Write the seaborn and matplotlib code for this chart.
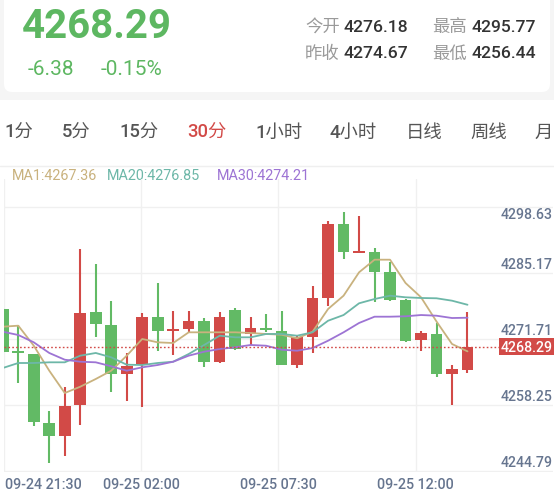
import numpy as np
import pandas as pd
import matplotlib
matplotlib.use("Agg")
import matplotlib.pyplot as plt
import seaborn as sns
from matplotlib.patches import FancyBboxPatch, Rectangle
from matplotlib.transforms import blended_transform_factory as blend

# ---------------- data ----------------
opens = [4275.99, 4267.30, 4266.82, 4252.77, 4250.18, 4256.44, 4275.31, 4272.73, 4262.75, 4264.64,
         4274.30, 4271.50, 4271.91, 4273.48, 4265.13, 4275.88, 4270.90, 4272.00, 4271.57, 4264.64,
         4270.22, 4278.23, 4293.30, 4287.50, 4287.66, 4283.46, 4277.82, 4269.73, 4270.90, 4262.75,
         4263.63]
closes = [4267.29, 4267.00, 4253.03, 4250.18, 4256.29, 4275.17, 4272.87, 4262.75, 4264.32, 4274.30,
          4271.57, 4271.80, 4273.48, 4265.13, 4274.30, 4267.84, 4272.12, 4271.80, 4264.64, 4270.22,
          4278.17, 4293.30, 4287.66, 4287.70, 4283.58, 4277.82, 4269.53, 4271.04, 4262.75, 4263.77,
          4268.29]
highs = [4276.20, 4272.73, 4266.90, 4255.15, 4260.16, 4288.21, 4285.09, 4277.68, 4266.96, 4275.11,
         4281.22, 4275.52, 4275.52, 4274.15, 4275.31, 4276.19, 4274.30, 4274.97, 4275.52, 4270.40,
         4280.61, 4293.85, 4295.77, 4294.87, 4288.35, 4285.62, 4278.00, 4271.57, 4273.14, 4264.64,
         4275.44]
lows = [4267.00, 4260.85, 4252.22, 4244.56, 4246.11, 4252.36, 4270.22, 4259.02, 4257.19, 4255.97,
        4267.37, 4266.68, 4271.24, 4264.24, 4264.93, 4267.64, 4268.72, 4271.24, 4264.50, 4263.97,
        4266.96, 4276.54, 4286.17, 4287.50, 4277.35, 4277.70, 4269.33, 4267.37, 4262.08, 4256.44,
        4262.95]
ma1 = [4272.38, 4272.59, 4268.51, 4263.42, 4258.88, 4260.16, 4261.73, 4263.42, 4266.48, 4269.88,
       4269.20, 4269.06, 4271.24, 4271.24, 4271.24, 4271.24, 4271.10, 4270.90, 4270.75, 4270.02,
       4271.36, 4275.99, 4278.70, 4283.46, 4286.03, 4286.03, 4281.28, 4278.37, 4273.44, 4268.86,
       4267.36]
ma20 = [4263.97, 4264.99, 4264.99, 4265.13, 4265.13, 4266.48, 4267.03, 4266.15, 4264.64, 4264.58,
        4264.99, 4265.25, 4266.82, 4268.66, 4270.55, 4270.22, 4270.22, 4270.90, 4270.90, 4270.55,
        4271.24, 4273.60, 4274.76, 4277.15, 4278.02, 4278.70, 4278.37, 4278.23, 4278.17, 4277.68,
        4276.85]
ma30 = [4271.36, 4270.69, 4269.20, 4267.03, 4265.66, 4265.25, 4265.13, 4264.32, 4263.42, 4264.11,
        4264.58, 4265.25, 4266.48, 4267.29, 4267.84, 4268.19, 4268.66, 4268.51, 4267.70, 4267.49,
        4268.04, 4269.53, 4271.24, 4273.14, 4274.42, 4274.42, 4274.50, 4274.76, 4274.62, 4274.15,
        4274.21]

y_ticks = [4298.63, 4285.17, 4271.71, 4258.25, 4244.79]
x_labels = ["09-24 21:30", "09-25 02:00", "09-25 07:30", "09-25 12:00"]
tab_labels = ["1分", "5分", "15分", "30分", "1小时", "4小时", "日线", "周线", "月"]
active_tab = 3

last_price = 4268.29
change_abs = "-6.38"
change_pct = "-0.15%"
stat_names = ["今开", "最高", "昨收", "最低"]
stat_vals = ["4276.18", "4295.77", "4274.67", "4256.44"]
legend_names = ["MA1", "MA20", "MA30"]
legend_vals = [4267.36, 4276.85, 4274.21]

# ---------------- style ----------------
RED = "#d24a47"
GREEN = "#62ba65"
GREEN_TXT = "#5db761"
MA_COLORS = ["#c9b27e", "#6db7a8", "#9d74d4"]
AXIS_TXT = "#66758f"
GRID = "#f0f0f0"

sns.set_theme(style="white")
plt.rcParams["font.family"] = ["Roboto", "Noto Sans CJK SC", "DejaVu Sans"]

W, H = 554, 502
fig = plt.figure(figsize=(W / 100, H / 100), dpi=100)
fig.patch.set_facecolor("white")

# background axes in pixel coordinates
bg = fig.add_axes([0, 0, 1, 1], zorder=0)
bg.set_xlim(0, W)
bg.set_ylim(H, 0)
bg.axis("off")
bg.add_patch(Rectangle((0, 0), W, 101, facecolor="#f5f5f5", edgecolor="none"))
bg.add_patch(FancyBboxPatch((4, -20), 546, 113, boxstyle="round,pad=0,rounding_size=8",
                            facecolor="white", edgecolor="none"))

# header
bg.text(22, 38, f"{last_price:.2f}", fontsize=29, fontweight="bold", color=GREEN_TXT, va="baseline")
bg.text(28, 75, change_abs, fontsize=15, color=GREEN_TXT, va="baseline")
bg.text(101, 75, change_pct, fontsize=15, color=GREEN_TXT, va="baseline")
name_x = [305, 432, 305, 432]
val_x = [344, 472, 344, 472]
row_y = [32, 32, 58.5, 58.5]
for n, v, nx, vx, ry in zip(stat_names, stat_vals, name_x, val_x, row_y):
    bg.text(nx, ry, n, fontsize=12.5, color="#9a9a9a", va="baseline")
    bg.text(vx, ry, v, fontsize=12.6, color="#333333", va="baseline", fontweight="medium")

# tabs
tab_x = [4, 62, 119, 187, 255, 329, 406, 470, 535]
for i, (t, tx) in enumerate(zip(tab_labels, tab_x)):
    bg.text(tx, 133, t, fontsize=13.2, color=RED if i == active_tab else "#555555",
            va="center", fontweight="medium")
bg.plot([0, W], [167, 167], color="#efefef", lw=1)

# legend
leg_x = [12, 107, 217]
for n, v, lx, col in zip(legend_names, legend_vals, leg_x, MA_COLORS):
    bg.text(lx, 176.5, f"{n}:{v:.2f}", fontsize=10.4, color=col, va="center")

# ---------------- chart ----------------
ax_left, ax_right, ax_top, ax_bottom = 4, 553, 180, 473
ax = fig.add_axes([ax_left / W, 1 - ax_bottom / H, (ax_right - ax_left) / W, (ax_bottom - ax_top) / H],
                  zorder=1)
ax.set_facecolor("none")
for s in ax.spines.values():
    s.set_visible(False)

n = len(opens)
idx = np.arange(n)
o = np.array(opens); c = np.array(closes); hi = np.array(highs); lo = np.array(lows)
up = c >= o
cols = np.where(up, RED, GREEN)

px_per_candle = 15.49
first_px = 2.8
ax.set_xlim((ax_left - first_px) / px_per_candle, (ax_right - first_px) / px_per_candle)
px_per_unit = 4.91
ref_val, ref_px = 4271.71, 331.0
ax.set_ylim(ref_val - (ax_bottom - ref_px) / px_per_unit, ref_val + (ref_px - ax_top) / px_per_unit)

# grid (drawn slightly below label values, as in the app)
grid_shift = 1.82
for t in y_ticks:
    ax.axhline(t - grid_shift, color=GRID, lw=1, zorder=0)
vgrid = [0.077 + 8.86 * k for k in range(len(x_labels))]
for g in vgrid:
    ax.axvline(g, color=GRID, lw=1, zorder=0)

# candles
ax.vlines(idx, lo, hi, colors=cols, lw=1.5, zorder=2)
min_body = 0.4
body_h = np.maximum(np.abs(c - o), min_body)
mid = (c + o) / 2
ax.bar(idx, body_h, bottom=mid - body_h / 2, width=0.75, color=cols, linewidth=0, zorder=2.5)

# moving averages
df = pd.DataFrame({"i": idx, "MA1": ma1, "MA20": ma20, "MA30": ma30})
for name, col in zip(legend_names, MA_COLORS):
    sns.lineplot(data=df, x="i", y=name, color=col, lw=1.3, ax=ax, zorder=3, legend=False)

ax.set_xticks([]); ax.set_yticks([])
ax.set_xlabel(""); ax.set_ylabel("")

# last price line + tag
ax.axhline(last_price, xmin=0, xmax=0.903, color=RED, lw=1, ls=(0, (1.2, 1.6)), zorder=3)
yt = blend(ax.transAxes, ax.transData)
ax.text(0.9995, last_price, f"{last_price:.2f}", transform=yt, ha="right", va="center",
        color="white", fontsize=10.2, zorder=5, fontweight="medium",
        bbox=dict(boxstyle="square,pad=0.12", fc=RED, ec="none"))

# y labels
for k, t in enumerate(y_ticks):
    if k == 0:
        ax.text(0.9995, t - grid_shift, f"{t:.2f}", transform=yt, ha="right", va="top",
                color=AXIS_TXT, fontsize=10.2, zorder=4, fontweight="medium")
    else:
        ax.text(0.9995, t, f"{t:.2f}", transform=yt, ha="right", va="center",
                color=AXIS_TXT, fontsize=10.2, zorder=4, fontweight="medium")

# x labels
xt = blend(ax.transData, ax.transAxes)
for k, (g, lab) in enumerate(zip(vgrid, x_labels)):
    ax.text(g + (0.06 if k == 0 else 0), -0.041, lab, transform=xt,
            ha="left" if k == 0 else "center", va="center", color=AXIS_TXT, fontsize=10.3,
            fontweight="medium")

fig.savefig("out.png", dpi=100)
